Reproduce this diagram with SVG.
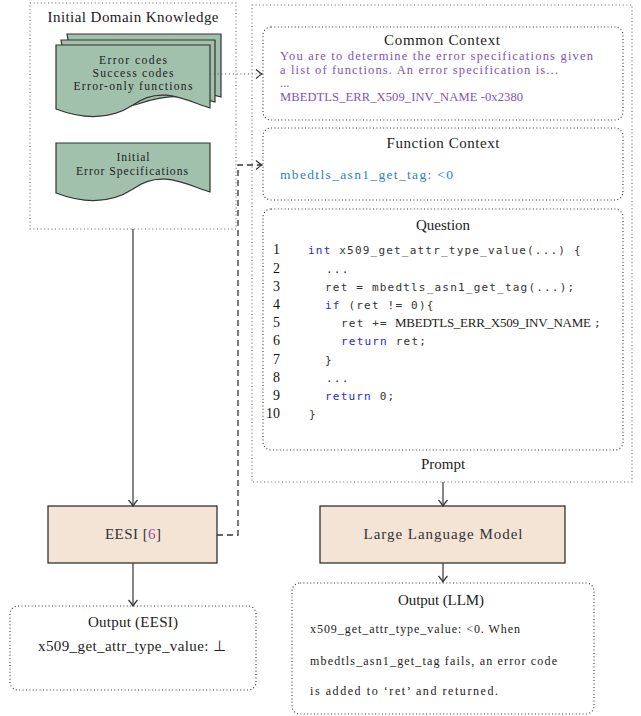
<svg xmlns="http://www.w3.org/2000/svg" width="641" height="716" viewBox="0 0 641 716">
<style>
text{font-family:"Liberation Serif","Times New Roman",serif;fill:#222}
.t{font-size:15px;text-anchor:middle}
.b{font-size:11.7px;text-anchor:middle}
.outer{fill:none;stroke:#666;stroke-width:1.1;stroke-dasharray:1 2.6}
.inner{fill:none;stroke:#333;stroke-width:1.1;stroke-dasharray:1 2.4}
.doc{fill:#a1c1ad;stroke:#333;stroke-width:1.2}
.proc{fill:#f3e4d6;stroke:#222;stroke-width:1.2}
.pur{fill:#7b55bd;font-size:12.5px}
.blu{fill:#2a82c8;font-size:13.5px}
.ln{font-size:14px;text-anchor:end;fill:#111}
.code{font-family:"DejaVu Sans Mono","Liberation Mono",monospace;font-size:11px;letter-spacing:1.2px;fill:#333}
.kw{fill:#2626e0}
.con{fill:none;stroke:#444;stroke-width:1.3}
.dot{fill:none;stroke:#555;stroke-width:1.1;stroke-dasharray:1 2.8}
.dash{fill:none;stroke:#333;stroke-width:1.3;stroke-dasharray:6 4}
</style>
<defs>
<marker id="arr" viewBox="-8 -6 10 12" markerWidth="10" markerHeight="12" refX="0" refY="0" markerUnits="userSpaceOnUse" orient="auto" overflow="visible">
<path d="M-6,-4.5 Q-2,-1 0,0 Q-2,1 -6,4.5" fill="none" stroke="#333" stroke-width="1.2"/>
</marker>
</defs>

<g id="domain-knowledge">
<rect class="outer" x="30" y="3" width="206" height="226"/>
<text class="t" x="133" y="22" textLength="171">Initial Domain Knowledge</text>
</g>

<g id="codes-docs">
<path class="doc" d="M67,34 H221 V97 C196,89 171,89 144,99 C120,106 100,104 78,98 Z"/>
<path class="doc" d="M61,40 H215 V102 C190,94 165,94 138,104 C114,111 94,109 72,103 Z"/>
<path class="doc" d="M56,45 H210 V108 C185,100 160,85 133,105 C110,120 85,120 56,109 Z"/>
<text class="b" x="133" y="64" textLength="68">Error codes</text>
<text class="b" x="133" y="77" textLength="81">Success codes</text>
<text class="b" x="133" y="90" textLength="119">Error-only functions</text>
</g>

<g id="initial-specs">
<path class="doc" d="M56,143 H210 V192 C185,184 160,169 133,189 C110,204 85,204 56,193 Z"/>
<text class="b" x="133" y="161" textLength="33">Initial</text>
<text class="b" x="132" y="175" textLength="112">Error Specifications</text>
</g>

<g id="prompt">
<rect class="outer" x="252" y="5" width="380" height="477"/>
<text class="t" x="443" y="469">Prompt</text>
</g>

<g id="common-context">
<rect class="inner" x="263" y="27" width="360" height="93" rx="8"/>
<text class="t" x="442" y="45" font-size="14.5" textLength="116">Common Context</text>
<text class="pur" x="280" y="60" textLength="313">You are to determine the error specifications given</text>
<text class="pur" x="280" y="74" textLength="278">a list of functions. An error specification is...</text>
<text class="pur" x="280" y="87" font-size="11">...</text>
<text class="pur" x="280" y="101" textLength="243">MBEDTLS_ERR_X509_INV_NAME  -0x2380</text>
</g>

<g id="function-context">
<rect class="inner" x="263" y="128" width="360" height="72" rx="8"/>
<text class="t" x="443" y="148" textLength="113">Function Context</text>
<text class="blu" x="280" y="179" textLength="173">mbedtls_asn1_get_tag:  &lt;0</text>
</g>

<g id="question">
<rect class="inner" x="263" y="209" width="360" height="241" rx="8"/>
<text class="t" x="443" y="230">Question</text>
<text class="ln" x="280" y="254">1</text>
<text class="ln" x="280" y="273">2</text>
<text class="ln" x="280" y="291">3</text>
<text class="ln" x="280" y="309">4</text>
<text class="ln" x="280" y="327">5</text>
<text class="ln" x="280" y="345">6</text>
<text class="ln" x="280" y="364">7</text>
<text class="ln" x="280" y="382">8</text>
<text class="ln" x="280" y="400">9</text>
<text class="ln" x="280" y="418">10</text>
<text class="code" x="308" y="254"><tspan class="kw">int</tspan> x509_get_attr_type_value(...)  {</text>
<text class="code" x="326" y="273">...</text>
<text class="code" x="325" y="291">ret = mbedtls_asn1_get_tag(...);</text>
<text class="code" x="325" y="309"><tspan class="kw">if</tspan> (ret != 0){</text>
<text class="code" x="341" y="327">ret += </text>
<text x="395" y="327" font-size="13" fill="#333" textLength="196">MBEDTLS_ERR_X509_INV_NAME</text>
<text class="code" x="594" y="327">;</text>
<text class="code" x="341" y="345"><tspan class="kw">return</tspan> ret;</text>
<text class="code" x="325" y="364">}</text>
<text class="code" x="326" y="382">...</text>
<text class="code" x="325" y="400"><tspan class="kw">return</tspan> 0;</text>
<text class="code" x="309" y="418">}</text>
</g>

<g id="eesi">
<rect class="proc" x="48" y="506" width="169" height="57"/>
<text class="t" x="133" y="539" textLength="56" style="fill:#333">EESI  [<tspan fill="#9a4aa6">6</tspan>]</text>
</g>

<g id="llm">
<rect class="proc" x="320" y="506" width="245" height="57"/>
<text class="t" x="443" y="539" textLength="159" style="fill:#333">Large Language Model</text>
</g>

<g id="output-eesi">
<rect class="inner" x="10" y="606" width="246" height="84" rx="8"/>
<text class="t" x="133" y="627" textLength="90">Output (EESI)</text>
<text class="t" x="132" y="651" textLength="188">x509_get_attr_type_value: ⊥</text>
</g>

<g id="output-llm">
<rect class="inner" x="292" y="583" width="302" height="131" rx="8"/>
<text class="t" x="441" y="605" textLength="86">Output (LLM)</text>
<text x="310" y="633" font-size="12" textLength="210">x509_get_attr_type_value:  &lt;0.  When</text>
<text x="310" y="665" font-size="12" textLength="247">mbedtls_asn1_get_tag  fails,  an  error  code</text>
<text x="310" y="695" font-size="12" textLength="188">is  added  to  ‘ret’  and  returned.</text>
</g>

<g id="connectors">
<path class="dot" d="M210,74 H262" marker-end="url(#arr)"/>
<path class="dash" d="M217,535 H238 V165 H262" marker-end="url(#arr)"/>
<path class="con" d="M133,229 V506" marker-end="url(#arr)"/>
<path class="con" d="M133,563 V606" marker-end="url(#arr)"/>
<path class="con" d="M443,482 V506" marker-end="url(#arr)"/>
<path class="con" d="M443,563 V582" marker-end="url(#arr)"/>
</g>
</svg>
